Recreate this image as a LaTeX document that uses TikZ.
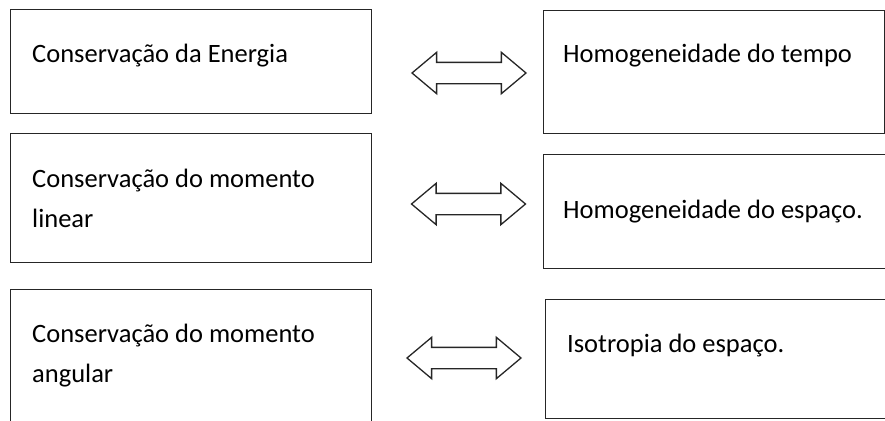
\documentclass[tikz,border=0pt]{standalone}
\usepackage{fontspec}
\setmainfont{Carlito}
\usetikzlibrary{positioning}
\usetikzlibrary{shapes.arrows}

\begin{document}
\begin{tikzpicture}[x=1pt,y=-1pt,
    box/.style={draw=black!85,line width=1.4pt,rectangle,anchor=north west,inner sep=0pt},%
    txt/.style={anchor=base west,inner sep=0pt,align=left,font=\fontsize{26.5}{40}\selectfont},%
    equiv/.style={double arrow,draw=black!85,line width=1.3pt,inner xsep=0pt,inner ysep=10pt,
        double arrow head extend=10pt,double arrow tip angle=80,minimum height=114pt}]
    \useasboundingbox (0,0) rectangle (885,420);
    \clip (0,0) rectangle (885,420);
    % grandezas conservadas (coluna da esquerda)
    \node[box,minimum width=361pt,minimum height=104pt] (energia) at (10,9) {};
    \node[box,minimum width=361pt,minimum height=129pt] (linear) at (10,133) {};
    \node[box,minimum width=361pt,minimum height=141pt] (angular) at (10,289) {};
    % simetrias (coluna da direita)
    \node[box,minimum width=341pt,minimum height=123pt] (tempo) at (543,10) {};
    \node[box,minimum width=357pt,minimum height=114pt] (espaco) at (543,154) {};
    \node[box,minimum width=355pt,minimum height=119pt] (isotropia) at (545,299) {};

    % a ultima linha de cada texto fica na ancora base
    \node[txt] (t1) at (32,63) {Conservação da Energia};
    \node[txt] (t2) at (32,227) {Conservação do momento\\linear};
    \node[txt] (t3) at (32,382) {Conservação do momento\\angular};
    \node[txt] (t4) at (563,63) {Homogeneidade do tempo};
    \node[txt] (t5) at (563,218) {Homogeneidade do espaço.};
    \node[txt] (t6) at (567,352) {Isotropia do espaço.};

    % setas de equivalencia
    \node[equiv] (a1) at (469,73) {};
    \node[equiv] (a2) at (468.5,204) {};
    \node[equiv] (a3) at (464,358) {};
\end{tikzpicture}
\end{document}
